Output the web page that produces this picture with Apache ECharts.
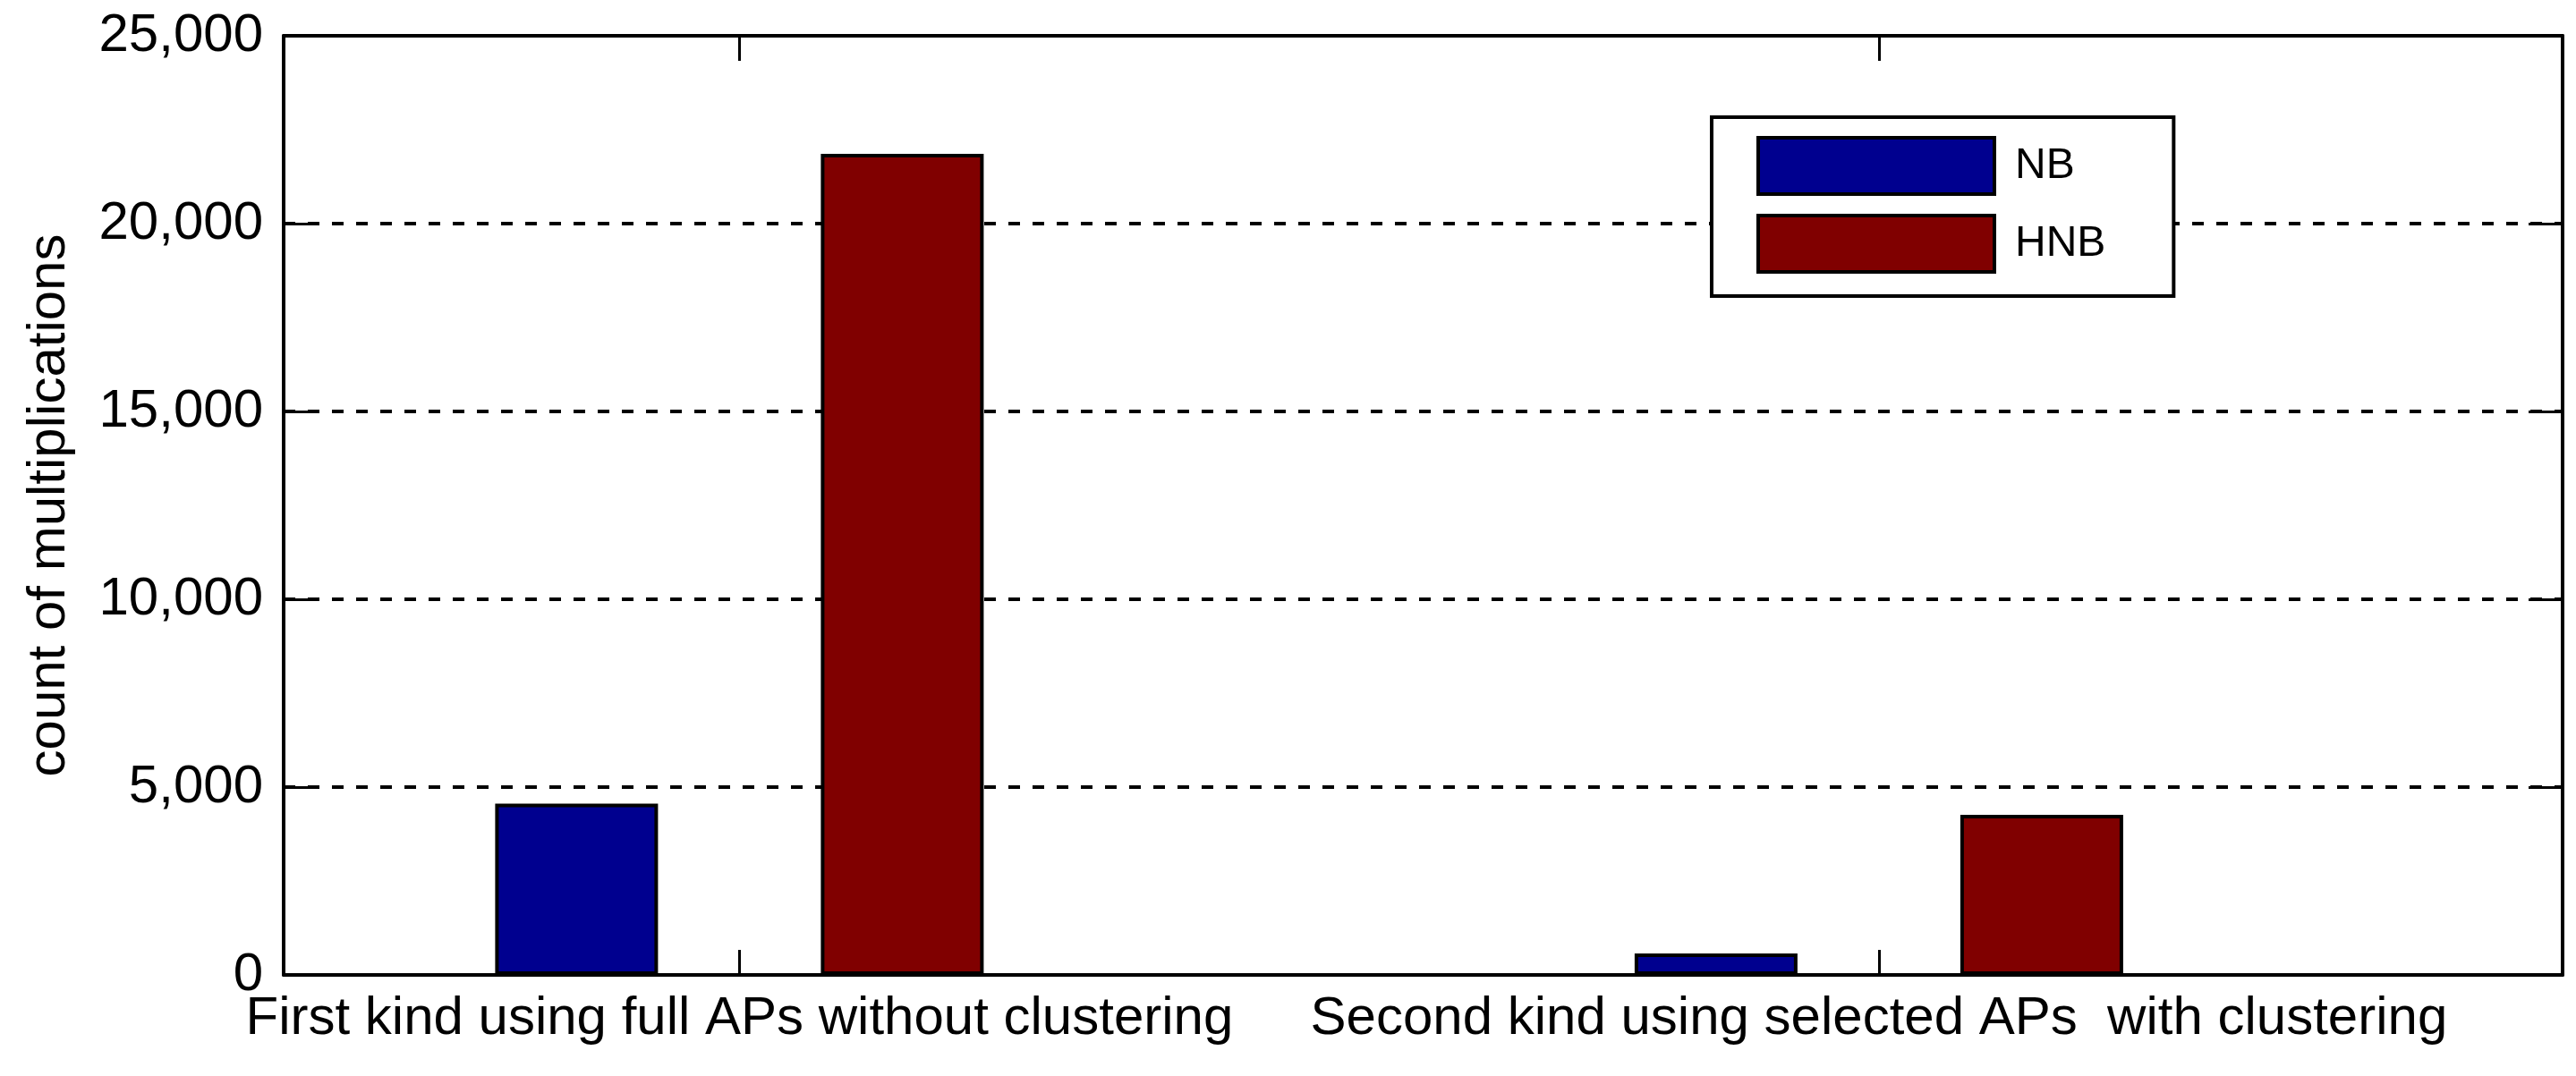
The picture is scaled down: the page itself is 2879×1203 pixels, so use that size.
<!DOCTYPE html>
<html>
<head>
<meta charset="utf-8">
<script src="https://cdn.jsdelivr.net/npm/echarts@6/dist/echarts.min.js"></script>
<style>
html,body{margin:0;padding:0;background:#fff;}
#chart{width:2879px;height:1203px;}
</style>
</head>
<body>
<div id="chart"></div>
<script>
const categories = ['First kind using full APs without clustering', 'Second kind using selected APs  with clustering'];
const seriesNames = ['NB', 'HNB'];
const nbValues = [4560, 570];
const hnbValues = [21860, 4260];
const yTicks = [0, 5000, 10000, 15000, 20000, 25000];

const FONT = 'Liberation Sans, Arial, sans-serif';
const chart = echarts.init(document.getElementById('chart'));
const positions = categories.map((c, i) => i + 1);
const fmt = v => v === 0 ? '0' : v.toLocaleString('en-US');

const option = {
  animation: false,
  backgroundColor: '#fff',
  grid: { left: 317, right: 15, top: 40, bottom: 113, containLabel: false },
  legend: {
    orient: 'vertical',
    left: 1913, top: 131,
    backgroundColor: '#fff',
    borderColor: '#000', borderWidth: 4,
    padding: [21, 76, 25, 50],
    itemWidth: 264, itemHeight: 63, itemGap: 20,
    icon: 'rect',
    itemStyle: { borderColor: '#000', borderWidth: 4 },
    textStyle: { fontFamily: FONT, fontSize: 48, color: '#000', padding: [0, 0, 0, 18] },
    data: seriesNames
  },
  xAxis: [{
    type: 'value', min: 0.6, max: 2.6,
    axisLine: { show: true, onZero: false, lineStyle: { color: '#000', width: 4 } },
    axisTick: { show: true, inside: true, length: 28, customValues: positions, lineStyle: { color: '#000', width: 3 } },
    axisLabel: { show: true, customValues: positions, margin: 19, formatter: v => categories[Math.round(v) - 1] || '',
      fontFamily: FONT, fontSize: 60, color: '#000' },
    splitLine: { show: false }
  }, {
    type: 'value', min: 0.6, max: 2.6, position: 'top',
    axisLine: { show: true, onZero: false, lineStyle: { color: '#000', width: 4 } },
    axisTick: { show: true, inside: true, length: 28, customValues: positions, lineStyle: { color: '#000', width: 3 } },
    axisLabel: { show: false },
    splitLine: { show: false }
  }],
  yAxis: [{
    type: 'value', min: yTicks[0], max: yTicks[yTicks.length - 1], interval: 5000,
    name: 'count of multiplications', nameLocation: 'middle', nameGap: 232, nameRotate: 90,
    nameTextStyle: { fontFamily: FONT, fontSize: 60, color: '#000' },
    axisLine: { show: true, lineStyle: { color: '#000', width: 4 } },
    axisTick: { show: true, inside: true, length: 38, lineStyle: { color: '#000', width: 3 } },
    axisLabel: { margin: 23, formatter: fmt, fontFamily: FONT, fontSize: 60, color: '#000' },
    splitLine: { show: true, lineStyle: { color: '#000', width: 4, type: [13, 14] } }
  }, {
    type: 'value', min: yTicks[0], max: yTicks[yTicks.length - 1], interval: 5000, position: 'right',
    axisLine: { show: true, lineStyle: { color: '#000', width: 4 } },
    axisTick: { show: true, inside: true, length: 38, lineStyle: { color: '#000', width: 3 } },
    axisLabel: { show: false },
    splitLine: { show: false }
  }],
  series: [{
    name: seriesNames[0], type: 'bar', xAxisIndex: 0, yAxisIndex: 0,
    barWidth: 182, barGap: '100%',
    itemStyle: { color: '#00008F', borderColor: '#000', borderWidth: 4 },
    data: nbValues.map((v, i) => [positions[i], v])
  }, {
    name: seriesNames[1], type: 'bar', xAxisIndex: 0, yAxisIndex: 0,
    barWidth: 182, barGap: '100%',
    itemStyle: { color: '#800000', borderColor: '#000', borderWidth: 4 },
    data: hnbValues.map((v, i) => [positions[i], v])
  }]
};
chart.setOption(option);
</script>
</body>
</html>
